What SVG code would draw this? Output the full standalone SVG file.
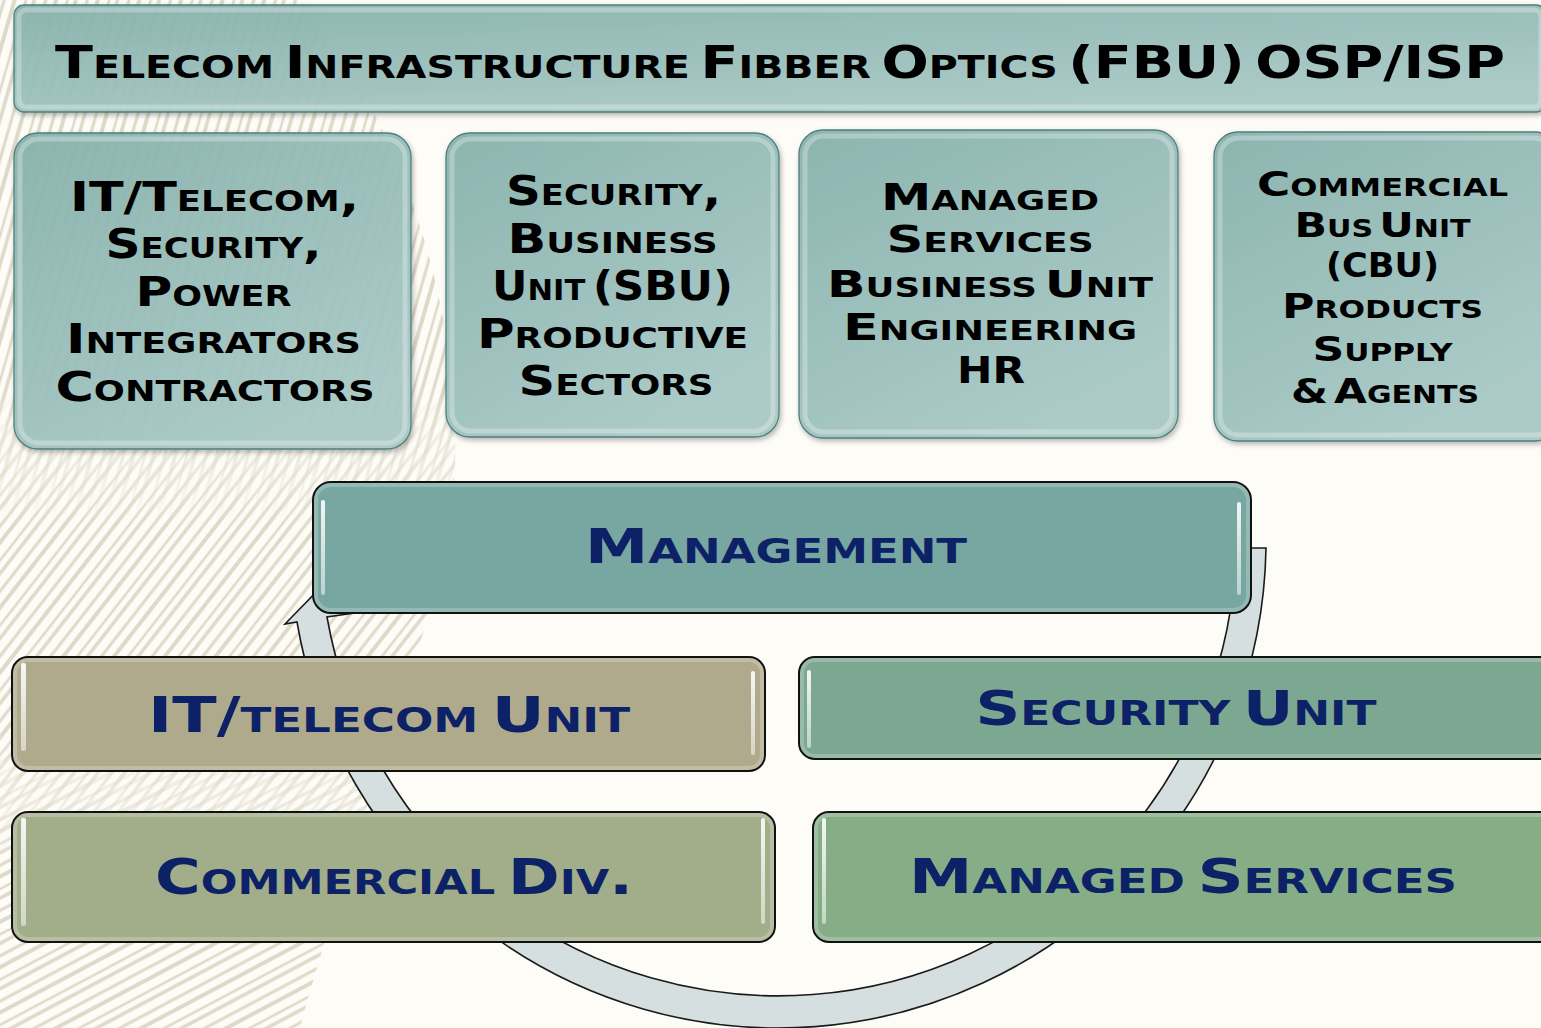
<svg xmlns="http://www.w3.org/2000/svg" width="1541" height="1028" viewBox="0 0 1541 1028">
<defs>
<style>
.tk{font-family:"DejaVu Sans","Liberation Sans",sans-serif;font-weight:bold;font-variant:small-caps;text-anchor:middle;fill:#000;word-spacing:-7px}
.nv{font-family:"DejaVu Sans","Liberation Sans",sans-serif;font-weight:bold;font-variant:small-caps;text-anchor:middle;fill:#0c2166;word-spacing:-7px}
.top{fill:url(#teal);fill-opacity:0.93;stroke:#4f7f7b;stroke-width:1.3;filter:url(#sh)}
.rim{fill:none;stroke:#ffffff;stroke-opacity:0.28;stroke-width:5}
.bot{stroke:#111;stroke-width:2}
.hl{fill:url(#hlg)}
.brim{fill:none;stroke:#ffffff;stroke-opacity:0.22;stroke-width:4}
.fl{stroke:#dedac8;fill:none}
</style>
<linearGradient id="teal" x1="0" y1="0" x2="0.6" y2="1">
<stop offset="0" stop-color="#88b2ad"/>
<stop offset="1" stop-color="#a9cac7"/>
</linearGradient>
<linearGradient id="hlg" x1="0" y1="0" x2="0" y2="1">
<stop offset="0" stop-color="#ffffff" stop-opacity="0.9"/>
<stop offset="1" stop-color="#ffffff" stop-opacity="0.5"/>
</linearGradient>
<filter id="sh" x="-5%" y="-5%" width="110%" height="115%">
<feDropShadow dx="1.5" dy="2.5" stdDeviation="2.5" flood-color="#000" flood-opacity="0.3"/>
</filter>
<g id="tile">
<line class="fl" x1="0" y1="4" x2="40" y2="4" stroke-width="3"/>
<line class="fl" x1="0" y1="14" x2="40" y2="14" stroke-width="4"/>
<line class="fl" x1="0" y1="25" x2="40" y2="25" stroke-width="2.5"/>
<line class="fl" x1="0" y1="33" x2="40" y2="33" stroke-width="3.5"/>
</g>
<pattern id="fa" patternUnits="userSpaceOnUse" width="40" height="40" patternTransform="rotate(-74)"><use href="#tile"/></pattern>
<pattern id="fb" patternUnits="userSpaceOnUse" width="40" height="40" patternTransform="rotate(-52)"><use href="#tile"/></pattern>
<pattern id="fc" patternUnits="userSpaceOnUse" width="40" height="40" patternTransform="rotate(-28)"><use href="#tile"/></pattern>
<linearGradient id="gA" gradientUnits="userSpaceOnUse" x1="0" y1="0" x2="0" y2="1028"><stop offset="0.38" stop-color="#fff"/><stop offset="0.51" stop-color="#000"/></linearGradient>
<linearGradient id="gB" gradientUnits="userSpaceOnUse" x1="0" y1="0" x2="0" y2="1028"><stop offset="0.38" stop-color="#000"/><stop offset="0.51" stop-color="#fff"/><stop offset="0.71" stop-color="#fff"/><stop offset="0.84" stop-color="#000"/></linearGradient>
<linearGradient id="gC" gradientUnits="userSpaceOnUse" x1="0" y1="0" x2="0" y2="1028"><stop offset="0.71" stop-color="#000"/><stop offset="0.84" stop-color="#fff"/></linearGradient>
<mask id="ma" maskUnits="userSpaceOnUse" x="0" y="0" width="1541" height="1028"><rect width="1541" height="1028" fill="url(#gA)"/></mask>
<mask id="mb" maskUnits="userSpaceOnUse" x="0" y="0" width="1541" height="1028"><rect width="1541" height="1028" fill="url(#gB)"/></mask>
<mask id="mc" maskUnits="userSpaceOnUse" x="0" y="0" width="1541" height="1028"><rect width="1541" height="1028" fill="url(#gC)"/></mask>
<clipPath id="cf"><path d="M0 0 L300 0 C400 120 460 300 455 470 C440 620 380 760 350 860 C325 940 310 990 300 1028 L0 1028 Z"/></clipPath>
</defs>

<rect width="1541" height="1028" fill="#fdfcf7"/>
<g id="feather" clip-path="url(#cf)">
<rect width="470" height="1028" fill="url(#fa)" mask="url(#ma)"/>
<rect width="470" height="1028" fill="url(#fb)" mask="url(#mb)"/>
<rect width="470" height="1028" fill="url(#fc)" mask="url(#mc)"/>
</g>

<g id="connectors">
<path d="M1266 548 A488 488 0 0 1 297 622 L285 624 L330 578 L362 612 L327 617 A458 458 0 0 0 1236 548 Z" fill="#d6dfe0" stroke="#1a1a1a" stroke-width="1.6" stroke-linejoin="miter"/>
</g>

<g id="title">
<rect class="top" x="14" y="5" width="1532" height="107" rx="10"/>
<rect class="rim" x="19" y="10" width="1522" height="97" rx="7"/>
<text class="tk" x="780" y="78" font-size="45" textLength="1450" lengthAdjust="spacingAndGlyphs">Telecom Infrastructure Fibber Optics (FBU) OSP/ISP</text>
</g>

<g id="box-it-telecom-security">
<rect class="top" x="14" y="133" width="397" height="316" rx="24"/>
<rect class="rim" x="20" y="139" width="385" height="304" rx="19"/>
<text class="tk" font-size="40">
<tspan x="218" y="211" textLength="289" lengthAdjust="spacingAndGlyphs">IT/Telecom,</tspan>
<tspan x="217" y="258" textLength="216" lengthAdjust="spacingAndGlyphs">Security,</tspan>
<tspan x="217" y="306" textLength="156" lengthAdjust="spacingAndGlyphs">Power</tspan>
<tspan x="217" y="353" textLength="295" lengthAdjust="spacingAndGlyphs">Integrators</tspan>
<tspan x="215" y="401" textLength="319" lengthAdjust="spacingAndGlyphs">Contractors</tspan>
</text>
</g>

<g id="box-sbu">
<rect class="top" x="446" y="133" width="333" height="304" rx="24"/>
<rect class="rim" x="452" y="139" width="321" height="292" rx="19"/>
<text class="tk" font-size="40">
<tspan x="617" y="205" textLength="215" lengthAdjust="spacingAndGlyphs">Security,</tspan>
<tspan x="616" y="253" textLength="210" lengthAdjust="spacingAndGlyphs">Business</tspan>
<tspan x="616" y="300" textLength="241" lengthAdjust="spacingAndGlyphs">Unit (SBU)</tspan>
<tspan x="616" y="348" textLength="271" lengthAdjust="spacingAndGlyphs">Productive</tspan>
<tspan x="616" y="395" textLength="195" lengthAdjust="spacingAndGlyphs">Sectors</tspan>
</text>
</g>

<g id="box-msbu">
<rect class="top" x="799" y="130" width="379" height="308" rx="24"/>
<rect class="rim" x="805" y="136" width="367" height="296" rx="19"/>
<text class="tk" font-size="37">
<tspan x="993" y="210" textLength="218" lengthAdjust="spacingAndGlyphs">Managed</tspan>
<tspan x="993" y="252" textLength="207" lengthAdjust="spacingAndGlyphs">Services</tspan>
<tspan x="993" y="297" textLength="326" lengthAdjust="spacingAndGlyphs">Business Unit</tspan>
<tspan x="993" y="340" textLength="294" lengthAdjust="spacingAndGlyphs">Engineering</tspan>
<tspan x="991" y="383" textLength="68" lengthAdjust="spacingAndGlyphs">HR</tspan>
</text>
</g>

<g id="box-cbu">
<rect class="top" x="1214" y="132" width="345" height="309" rx="24"/>
<rect class="rim" x="1220" y="138" width="333" height="297" rx="19"/>
<text class="tk" font-size="34">
<tspan x="1385" y="196" textLength="251" lengthAdjust="spacingAndGlyphs">Commercial</tspan>
<tspan x="1385" y="237" textLength="176" lengthAdjust="spacingAndGlyphs">Bus Unit</tspan>
<tspan x="1385" y="277" textLength="113" lengthAdjust="spacingAndGlyphs">(CBU)</tspan>
<tspan x="1385" y="318" textLength="201" lengthAdjust="spacingAndGlyphs">Products</tspan>
<tspan x="1385" y="361" textLength="140" lengthAdjust="spacingAndGlyphs">Supply</tspan>
<tspan x="1385" y="403" textLength="188" lengthAdjust="spacingAndGlyphs">&amp; Agents</tspan>
</text>
</g>

<g id="management">
<rect class="bot" x="313" y="482" width="938" height="131" rx="18" fill="#78a6a1"/>
<rect class="brim" x="316" y="485" width="932" height="125" rx="15"/>
<rect class="hl" x="321" y="500" width="4" height="95" rx="2"/>
<rect class="hl" x="1237" y="502" width="4" height="93" rx="2"/>
<text class="nv" x="776" y="563" font-size="48" textLength="382" lengthAdjust="spacingAndGlyphs">Management</text>
</g>

<g id="it-telecom-unit">
<rect class="bot" x="12" y="657" width="753" height="114" rx="16" fill="#b0aa8d"/>
<rect class="brim" x="15" y="660" width="747" height="108" rx="13"/>
<rect class="hl" x="21" y="663" width="5" height="88" rx="2"/>
<rect class="hl" x="751" y="671" width="4" height="84" rx="2"/>
<text class="nv" x="389" y="732" font-size="49" textLength="482" lengthAdjust="spacingAndGlyphs">IT/telecom Unit</text>
</g>

<g id="security-unit">
<rect class="bot" x="799" y="657" width="760" height="102" rx="16" fill="#7ca891"/>
<rect class="brim" x="802" y="660" width="754" height="96" rx="13"/>
<rect class="hl" x="807" y="670" width="4" height="78" rx="2"/>
<text class="nv" x="1176" y="725" font-size="48" textLength="401" lengthAdjust="spacingAndGlyphs">Security Unit</text>
</g>

<g id="commercial-div">
<rect class="bot" x="12" y="812" width="763" height="130" rx="16" fill="#a2ae8a"/>
<rect class="brim" x="15" y="815" width="757" height="124" rx="13"/>
<rect class="hl" x="21" y="818" width="5" height="108" rx="2"/>
<rect class="hl" x="761" y="818" width="4" height="106" rx="2"/>
<text class="nv" x="394" y="894" font-size="49" textLength="478" lengthAdjust="spacingAndGlyphs">Commercial Div.</text>
</g>

<g id="managed-services">
<rect class="bot" x="813" y="812" width="746" height="130" rx="16" fill="#86ae86"/>
<rect class="brim" x="816" y="815" width="740" height="124" rx="13"/>
<rect class="hl" x="822" y="818" width="4" height="106" rx="2"/>
<text class="nv" x="1183" y="893" font-size="48" textLength="548" lengthAdjust="spacingAndGlyphs">Managed Services</text>
</g>
</svg>
